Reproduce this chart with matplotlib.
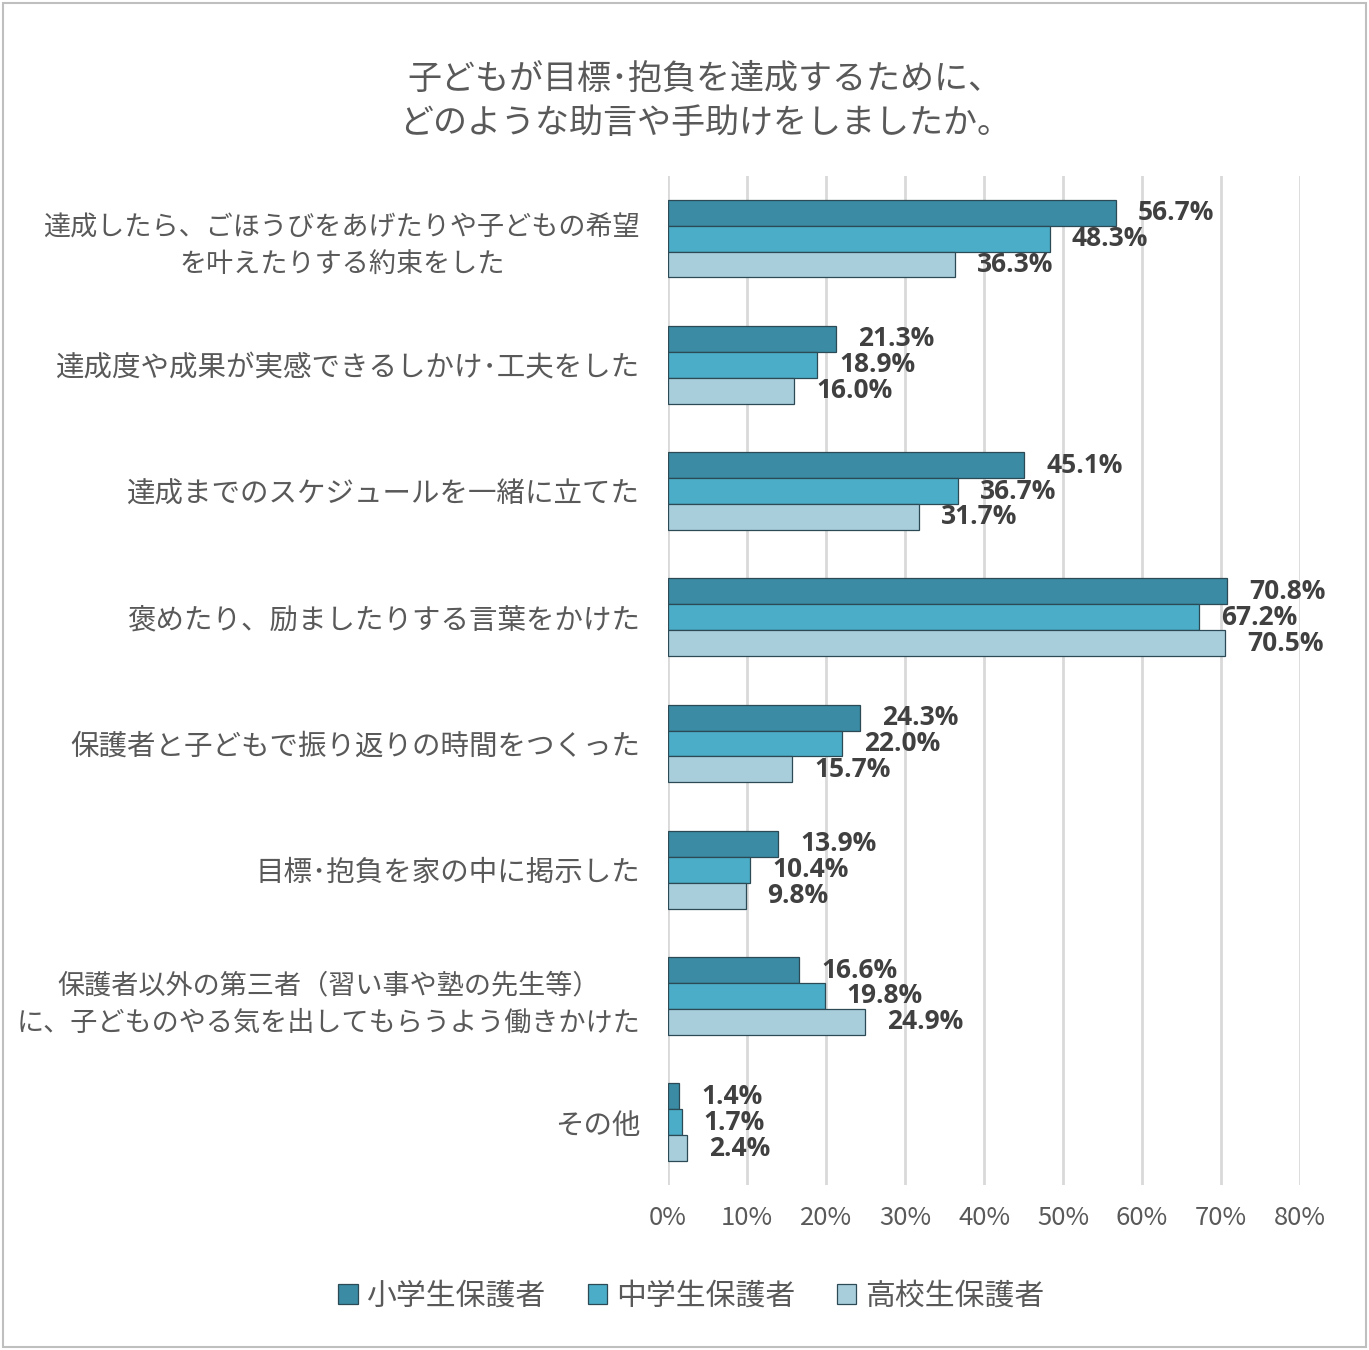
import matplotlib

matplotlib.use("Agg")
import matplotlib.pyplot as plt
import numpy as np
from matplotlib.patches import Rectangle

plt.rcParams["font.family"] = ["Noto Sans CJK JP", "DejaVu Sans"]

TITLE = "子どもが目標･抱負を達成するために、\nどのような助言や手助けをしましたか。"

categories = [
    "達成したら、ごほうびをあげたりや子どもの希望\nを叶えたりする約束をした",
    "達成度や成果が実感できるしかけ･工夫をした",
    "達成までのスケジュールを一緒に立てた",
    "褒めたり、励ましたりする言葉をかけた",
    "保護者と子どもで振り返りの時間をつくった",
    "目標･抱負を家の中に掲示した",
    "保護者以外の第三者（習い事や塾の先生等）\nに、子どものやる気を出してもらうよう働きかけた",
    "その他",
]
series_names = ["小学生保護者", "中学生保護者", "高校生保護者"]
elementary = [56.7, 21.3, 45.1, 70.8, 24.3, 13.9, 16.6, 1.4]
junior_high = [48.3, 18.9, 36.7, 67.2, 22.0, 10.4, 19.8, 1.7]
high_school = [36.3, 16.0, 31.7, 70.5, 15.7, 9.8, 24.9, 2.4]
x_ticks = [0, 10, 20, 30, 40, 50, 60, 70, 80]

colors = ["#3A8BA3", "#4BADC7", "#A9CEDB"]
text_gray = "#595959"

fig = plt.figure(figsize=(13.69, 13.5), dpi=100)
ax = fig.add_axes([0.488, 0.122, 0.4617, 0.748])

bar_h = 0.205
y = np.arange(len(categories))
for i, (vals, color, name) in enumerate(zip([elementary, junior_high, high_school], colors, series_names)):
    ypos = y + (i - 1) * bar_h
    ax.barh(ypos, vals, height=bar_h, color=color, edgecolor="#2B4A55", linewidth=0.9, label=name, zorder=3)
    for yy, v in zip(ypos, vals):
        ax.text(v + 2.8, yy, f"{v:.1f}%", va="center", ha="left", fontsize=19,
                fontweight="bold", color="#404040", family=["Open Sans", "DejaVu Sans"], zorder=4)

ax.set_ylim(len(categories) - 0.5, -0.5)
ax.set_xlim(0, 80)
ax.set_xticks(x_ticks)
ax.set_xticklabels([f"{t}%" for t in x_ticks], fontsize=18.5, color=text_gray)
ax.set_yticks(y)
ax.set_yticklabels(categories, fontsize=20.5, color=text_gray, multialignment="center")
# the two long labels are slightly narrower so they stay inside the frame
for lab in ax.get_yticklabels():
    if "\n" in lab.get_text():
        lab.set_fontsize(19.5)
        lab.set_linespacing(1.5)
ax.tick_params(axis="both", length=0)
ax.tick_params(axis="x", pad=14)
ax.tick_params(axis="y", pad=20)
ax.grid(axis="x", color="#D9D9D9", linewidth=2, zorder=0)
for s in ax.spines.values():
    s.set_visible(False)

fig.text(0.515, 0.925, TITLE, ha="center", va="center", fontsize=24.5, color=text_gray, linespacing=1.35)

handles = [Rectangle((0, 0), 1, 1, facecolor=c, edgecolor="#2B4A55", linewidth=0.9) for c in colors]
fig.legend(handles, series_names, loc="center", bbox_to_anchor=(0.505, 0.04), ncol=3, frameon=False,
           fontsize=21.5, labelcolor=text_gray, handlelength=0.65, handleheight=0.65, handletextpad=0.3,
           columnspacing=1.4)

fig.patches.append(Rectangle((0.002, 0.002), 0.996, 0.996, transform=fig.transFigure,
                             fill=False, edgecolor="#BFBFBF", linewidth=1.5))

fig.savefig("out.png", dpi=100)
plt.close(fig)
